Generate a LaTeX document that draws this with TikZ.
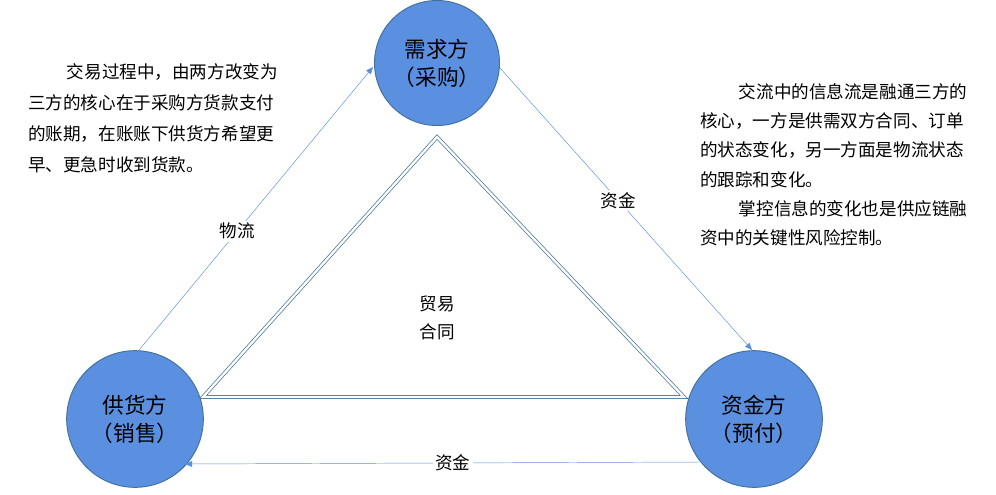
\documentclass[tikz,border=0pt]{standalone}
\usepackage{fontspec}
\setmainfont{Noto Sans CJK SC}
\usetikzlibrary{arrows.meta}
\definecolor{partyblue}{HTML}{5B8FDF}
\definecolor{rimblue}{HTML}{41719C}
\definecolor{flowblue}{HTML}{5B8FDF}

\begin{document}
\begin{tikzpicture}[x=0.03cm,y=-0.03cm]
\tikzset{
  party/.style={circle,fill=partyblue,draw=rimblue,thick,minimum size=3.8cm,
    align=center,font=\fontsize{18.5}{24}\selectfont,text=black,inner sep=0pt},
  flow/.style={draw=flowblue,-{Triangle[length=6pt,width=5pt]}},
  flowlab/.style={fill=white,font=\fontsize{15}{18}\selectfont,inner sep=2pt},
  note/.style={align=left,anchor=north west,font=\fontsize{15}{26.5}\selectfont,inner sep=0pt}
}
\useasboundingbox (0,0) rectangle (996,494);

% Triangle
\coordinate (T) at (437,137);
\coordinate (L) at (203,397);
\coordinate (R) at (684,397);
\draw[rimblue,double=white,double distance=2pt,line width=0.6pt] (T) -- (L) -- (R) -- cycle;
\node[align=center,font=\fontsize{15}{24}\selectfont] (contract) at (437,318) {贸易\\合同};

% Parties
\node[party,minimum width=3.75cm,minimum height=3.65cm] (buyer) at (437,63) {需求方\\（采购）};
\node[party,minimum width=4.1cm,minimum height=3.85cm] (seller) at (135,419) {供货方\\（销售）};
\node[party,minimum width=4.1cm,minimum height=3.85cm] (funder) at (754,419) {资金方\\（预付）};

% Flows
\coordinate (s1) at (135,355);
\coordinate (b1) at (373,67);
\coordinate (b2) at (500,68);
\coordinate (f1) at (752,350);
\coordinate (f2) at (700,462);
\coordinate (s2) at (185,464);
\draw[flow] (s1) -- node[flowlab,pos=0.43] {物流} (b1);
\draw[flow] (b2) -- node[flowlab,pos=0.47] {资金} (f1);
\draw[flow] (f2) -- node[flowlab,pos=0.48] {资金} (s2);

% Notes
\node[note] (leftnote) at (28,63) {\hspace{2.2em}交易过程中，由两方改变为\\三方的核心在于采购方货款支付\\的账期，在账账下供货方希望更\\早、更急时收到货款。};
\node[note,font=\fontsize{15}{25}\selectfont] (rightnote) at (700,83) {\hspace{2.2em}交流中的信息流是融通三方的\\核心，一方是供需双方合同、订单\\的状态变化，另一方面是物流状态\\的跟踪和变化。\\\hspace{2.2em}掌控信息的变化也是供应链融\\资中的关键性风险控制。};
\end{tikzpicture}
\end{document}
